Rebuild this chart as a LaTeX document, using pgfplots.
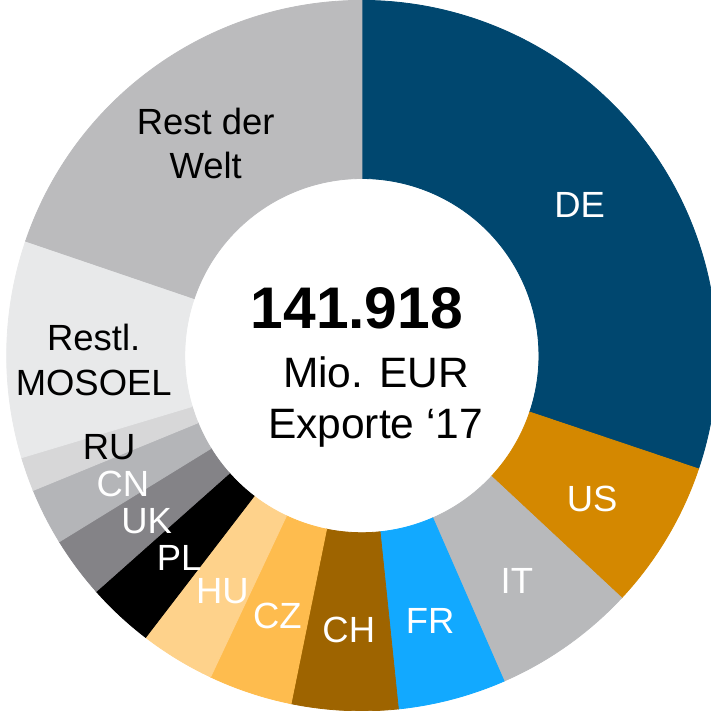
\documentclass[border=0pt]{standalone}
\usepackage{fontspec}
\setmainfont{Liberation Sans}
\usepackage{pgfplots}
\usepackage{pgfplotstable}
\pgfplotsset{compat=1.18}

\definecolor{cDE}{HTML}{00476F}
\definecolor{cUS}{HTML}{D48800}
\definecolor{cIT}{HTML}{B8B9BB}
\definecolor{cFR}{HTML}{12A9FF}
\definecolor{cCH}{HTML}{9E6400}
\definecolor{cCZ}{HTML}{FEBC4E}
\definecolor{cHU}{HTML}{FED28B}
\definecolor{cPL}{HTML}{000000}
\definecolor{cUK}{HTML}{848387}
\definecolor{cCN}{HTML}{B4B5B8}
\definecolor{cRU}{HTML}{D7D7D8}
\definecolor{cMO}{HTML}{E8E9EA}
\definecolor{cRW}{HTML}{BBBBBD}

% exports 2017, Mio. EUR (read off the ring), clockwise from 12 o'clock
% dy = small vertical nudge of the label
\pgfplotstableread[col sep=comma]{
key,value,fillc,textc,dy,label
DE,42812,cDE,white,0,DE
US,9619,cUS,white,0,US
IT,9225,cIT,white,0,IT
FR,6978,cFR,white,0,FR
CH,6859,cCH,white,0,CH
CZ,5401,cCZ,white,0,CZ
HU,4849,cHU,white,0,HU
PL,4297,cPL,white,0,PL
UK,3942,cUK,white,0,UK
CN,3666,cCN,white,-1,CN
RU,2208,cRU,black,4,RU
MO,13995,cMO,black,-3,Restl.\\MOSOEL
RW,28067,cRW,black,0,Rest der\\Welt
}\exportdata

\def\total{141918}
\def\cx{362}\def\cy{351}
\def\R{351}\def\r{175}\def\rl{265}
\newcommand\lblfont{\fontsize{18}{22}\selectfont}

\begin{document}
\begin{tikzpicture}
\begin{axis}[
  width=353.5pt, height=355.5pt, scale only axis,
  xmin=0, xmax=707, ymin=0, ymax=711,
  hide axis,
]
\pgfplotstablegetrowsof{\exportdata}
\pgfmathtruncatemacro\lastrow{\pgfplotsretval-1}
% ring segments
\gdef\cum{0}
\foreach \i in {0,...,\lastrow}{
  \pgfplotstablegetelem{\i}{value}\of\exportdata \let\v\pgfplotsretval
  \pgfplotstablegetelem{\i}{fillc}\of\exportdata \let\fc\pgfplotsretval
  \edef\a{\fpeval{round(90-360*\cum/\total,4)}}
  \edef\b{\fpeval{round(90-360*(\cum+\v)/\total,4)}}
  \xdef\cum{\fpeval{\cum+\v}}
  \edef\temp{%
    \noexpand\fill[\fc, draw=\fc, line width=0.4pt]
      (axis cs:\fpeval{round(\cx+\R*cosd(\a),3)},\fpeval{round(\cy+\R*sind(\a),3)})
      arc[start angle=\a, end angle=\b, radius=\R]
      -- (axis cs:\fpeval{round(\cx+\r*cosd(\b),3)},\fpeval{round(\cy+\r*sind(\b),3)})
      arc[start angle=\b, end angle=\a, radius=\r] -- cycle;
  }
  \temp
}
% segment labels, on top of all segments
\gdef\cum{0}
\foreach \i in {0,...,\lastrow}{
  \pgfplotstablegetelem{\i}{value}\of\exportdata \let\v\pgfplotsretval
  \pgfplotstablegetelem{\i}{textc}\of\exportdata \let\tc\pgfplotsretval
  \pgfplotstablegetelem{\i}{dy}\of\exportdata \let\dy\pgfplotsretval
  \pgfplotstablegetelem{\i}{label}\of\exportdata \let\lbl\pgfplotsretval
  \edef\m{\fpeval{round(90-360*(\cum+\v/2)/\total,4)}}
  \xdef\cum{\fpeval{\cum+\v}}
  \edef\temp{%
    \noexpand\node[text=\tc, align=center, font=\noexpand\lblfont, inner sep=0pt]
      at (axis cs:\fpeval{round(\cx+\rl*cosd(\m),3)},\fpeval{round(\cy-6+\dy+\rl*sind(\m),3)})
      {\unexpanded\expandafter{\lbl}};
  }
  \temp
}
\node[anchor=base, font=\bfseries\fontsize{29}{31}\selectfont] at (axis cs:357,378) {141.918};
\node[anchor=base, font=\fontsize{21}{24}\selectfont] at (axis cs:376,319) {Mio. EUR};
\node[anchor=base, font=\fontsize{21}{24}\selectfont] at (axis cs:375.5,269) {Exporte ‘17};
\end{axis}
\end{tikzpicture}
\end{document}
